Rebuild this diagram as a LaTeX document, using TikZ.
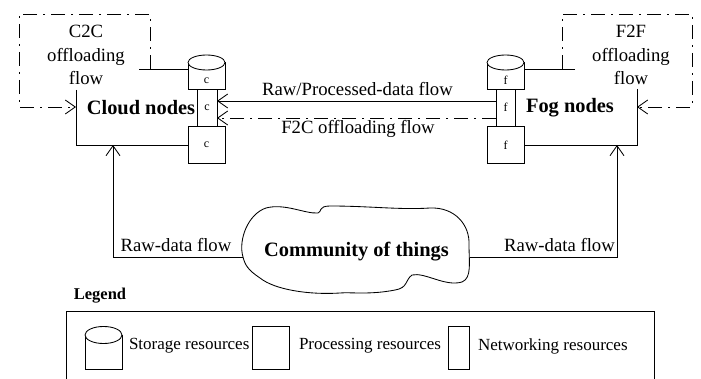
\documentclass[tikz,border=0pt]{standalone}
\usepackage{fontspec}
\setmainfont{Liberation Serif}
\usetikzlibrary{arrows.meta}
\begin{document}
\begin{tikzpicture}[x=1pt,y=-1pt, line width=0.85pt,
  every node/.style={inner sep=0pt, outer sep=0pt},
  flow/.style={-{Straight Barb[length=10pt,width=14pt]}},
  dashdot/.style={dash pattern=on 14pt off 6pt on 2pt off 6pt},
  reg/.style={font=\fontsize{18.7}{23.5}\selectfont},
  bld/.style={font=\fontsize{20.4}{24}\selectfont\bfseries},
  small/.style={font=\fontsize{12}{14}\selectfont},
  leg/.style={font=\fontsize{17}{20}\selectfont},
  legtitle/.style={font=\fontsize{16.5}{20}\selectfont\bfseries},
  res/.style={draw, fill=white, minimum height=37pt},
  proc/.style={res, minimum width=37pt},
  net/.style={res, minimum width=20pt},
  store/.style={draw, fill=white, minimum width=37pt, minimum height=26.5pt},
]
\useasboundingbox (0,0) rectangle (701,379);
\fill[white] (0,0) rectangle (701,379);

% cloud / fog region outlines
\draw (139,69) -- (188,69);
\draw (76,90) -- (76,145) -- (188,145);
\draw (575,69) -- (524,69);
\draw (637,89) -- (637,145) -- (524,145);

% offloading loops
\draw[flow,dashdot] (150,69) -- (150,14) -- (19,14) -- (19,107) -- (76,107);
\draw[flow,dashdot] (562,69) -- (562,14) -- (692,14) -- (692,107) -- (637,107);

% cloud resources
\node[store] (cs) at (206.5,75.75) {};
\draw[fill=white] (cs.north) ellipse [x radius=18.5pt, y radius=7.5pt];
\node[small] (csl) at (206.5,80.5) {c};
\node[net] (cn) at (207,107.5) {};
\node[small] (cnl) at (207,107.5) {c};
\node[proc] (cp) at (206.5,144.5) {};
\node[small] (cpl) at (206.5,145) {c};

% fog resources
\node[store] (fs) at (505.5,75.75) {};
\draw[fill=white] (fs.north) ellipse [x radius=18.5pt, y radius=7.5pt];
\node[small] (fsl) at (505.5,80.5) {f};
\node[res, minimum width=19pt] (fn) at (505.5,107.5) {};
\node[small] (fnl) at (505.5,107.5) {f};
\node[proc] (fp) at (505.5,144.5) {};
\node[small] (fpl) at (505.5,145) {f};

% texts
\node[reg, align=center] (c2c) at (86,55) {C2C\\offloading\\flow};
\node[reg, align=center] (f2f) at (631,55) {F2F\\offloading\\flow};
\node[bld] (cloudn) at (141,108) {Cloud nodes};
\node[bld] (fogn) at (570,108) {Fog nodes};
\node[reg] (rp) at (357.5,89) {Raw/Processed-data flow};
\node[reg] (f2cl) at (358,129) {F2C offloading flow};

% fog to cloud flows
\draw[flow] ([yshift=6.5pt]fn.west) -- ([yshift=6.5pt]cn.east);
\draw[flow,dashdot] ([yshift=-10.5pt]fn.west) -- ([yshift=-10.5pt]cn.east);

% community of things
\draw (243,257) .. controls (238,240) and (248,214) .. (266,208)
  .. controls (285,203) and (305,214) .. (318,213)
  .. controls (322,212) and (318,206) .. (330,206)
  .. controls (370,206) and (400,210) .. (430,208)
  .. controls (455,207) and (470,225) .. (469,245)
  .. controls (469,262) and (472,278) .. (462,282)
  .. controls (445,287) and (425,272) .. (412,275)
  .. controls (405,280) and (408,288) .. (395,290)
  .. controls (370,295) and (350,292) .. (340,293)
  .. controls (310,295) and (275,290) .. (260,278)
  .. controls (248,270) and (245,265) .. (243,257) -- cycle;
\node[bld] (comm) at (356.5,252) {Community of things};
\coordinate (cL) at (243,257);
\coordinate (cR) at (469.5,257);
\coordinate (cloudIn) at (113,145);
\coordinate (fogIn) at (617,145);
\draw[flow] (cL) -| (cloudIn);
\draw[flow] (cR) -| (fogIn);
\node[reg] (rdl) at (176,245) {Raw-data flow};
\node[reg] (rdr) at (559.5,245) {Raw-data flow};

% legend
\node[legtitle] (legt) at (100,296) {Legend};
\draw (66,379) -- (66,311) -- (654,311) -- (654,379);
\node[store, minimum height=34pt] (ls) at (103.5,352) {};
\draw[fill=white] (ls.north) ellipse [x radius=18.5pt, y radius=8.5pt];
\node[leg, anchor=west] (lst) at (129,346) {Storage resources};
\node[draw, fill=white, minimum width=37pt, minimum height=43pt] (lp) at (271,347.5) {};
\node[leg, anchor=west] (lpt) at (299,346) {Processing resources};
\node[draw, fill=white, minimum width=21.5pt, minimum height=43pt] (ln) at (459,347.5) {};
\node[leg, anchor=west] (lnt) at (478,346) {Networking resources};
\end{tikzpicture}
\end{document}
